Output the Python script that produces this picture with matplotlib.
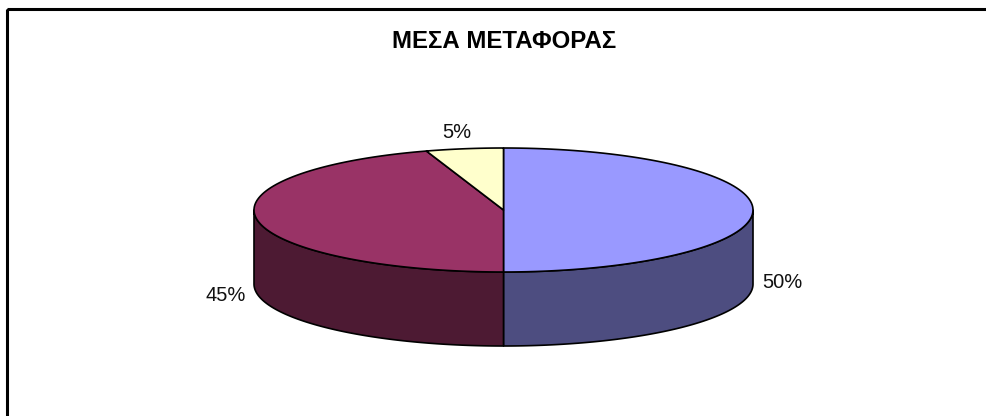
import numpy as np
import matplotlib
matplotlib.use("Agg")
import matplotlib.pyplot as plt
from matplotlib.patches import Polygon, Rectangle

title = "ΜΕΣΑ ΜΕΤΑΦΟΡΑΣ"
categories = ["A", "B", "C"]
values = [50, 45, 5]
labels = ["50%", "45%", "5%"]
top_colors = ["#9999FF", "#993366", "#FFFFCC"]
side_colors = ["#4D4D80", "#4D1A33", "#808066"]

plt.rcParams['font.family'] = ['Liberation Sans', 'DejaVu Sans']

fig = plt.figure(figsize=(9.87, 4.16), dpi=100)
ax = fig.add_axes([0, 0, 1, 1])
ax.set_xlim(0, 987)
ax.set_ylim(416, 0)
ax.axis('off')

# chart border
ax.add_patch(Rectangle((7, 9), 990, 420, fill=False, edgecolor='black', lw=2.2))

cx, cy, rx, ry, depth = 503.5, 210, 249.5, 62, 74

def pt(theta_deg, dy=0):
    t = np.radians(theta_deg)
    return cx + rx * np.sin(t), cy - ry * np.cos(t) + dy

def arc(a, b, dy=0, n=100):
    th = np.linspace(a, b, n)
    return np.array([pt(t, dy) for t in th])

total = sum(values)
starts = []
acc = 0
for v in values:
    starts.append((acc / total * 360, (acc + v) / total * 360))
    acc += v

# sides (front half: 90..270)
for (a, b), sc in zip(starts, side_colors):
    lo, hi = max(a, 90), min(b, 270)
    if hi > lo:
        top = arc(lo, hi)
        bot = arc(hi, lo, dy=depth)
        poly = np.vstack([top, bot])
        ax.add_patch(Polygon(poly, closed=True, facecolor=sc, edgecolor='black', lw=1.2, joinstyle='round'))

# top faces
for (a, b), tc in zip(starts, top_colors):
    pts = np.vstack([[cx, cy], arc(a, b)])
    ax.add_patch(Polygon(pts, closed=True, facecolor=tc, edgecolor='black', lw=1.2, joinstyle='round'))

# labels
label_pos = [(782.5, 280), (226, 293.5), (457, 130)]
for lab, (x, y) in zip(labels, label_pos):
    ax.text(x, y, lab, ha='center', va='center_baseline', fontsize=14.5, color='#111111')

ax.text(504, 39.5, title, ha='center', va='center_baseline', fontsize=17.3, fontweight='bold', color='black')

fig.savefig("out.png", dpi=100)
